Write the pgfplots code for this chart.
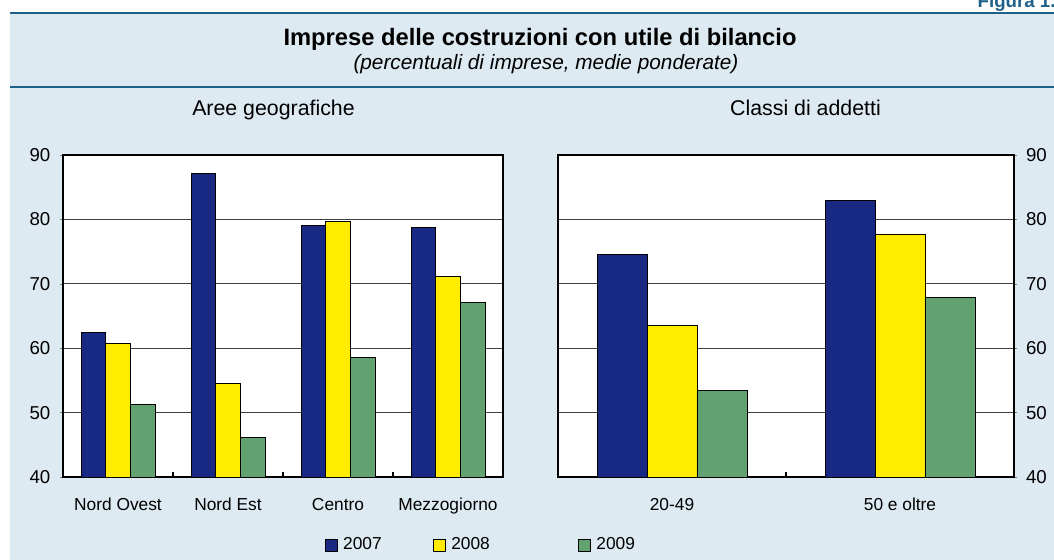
\documentclass[border=0pt]{standalone}
\usepackage{fontspec}
\setmainfont{Liberation Sans}
\usepackage{pgfplots}
\pgfplotsset{compat=1.18}

\definecolor{bgblue}{HTML}{DEEAF2}
\definecolor{rulecol}{HTML}{1D6089}
\definecolor{navy}{HTML}{172983}
\definecolor{yel}{HTML}{FFEC00}
\definecolor{grn}{HTML}{62A170}

\pgfplotsset{
  panel/.style={
    scale only axis, height=241.5pt,
    ymin=40, ymax=90, ytick={40,50,...,90},
    ybar=0pt,
    axis background/.style={fill=white},
    ymajorgrids, grid style={black!75, line width=0.6pt},
    axis line style={line width=0.9pt},
    tick align=outside, major tick length=2.5pt,
    xtick style={draw=none},
    xticklabel style={font=\fontsize{13}{15}\selectfont, text height=0.75em, text depth=0.22em, yshift=-11.5pt},
    yticklabel style={font=\fontsize{14}{16}\selectfont},
    /pgf/number format/assume math mode=true,
    every axis plot/.append style={draw=black, line width=0.6pt},
    clip=false,
  }
}

\begin{document}
\begin{tikzpicture}
\begin{scope}[x=0.75pt,y=0.75pt]
\useasboundingbox (0,0) rectangle (1054,560);
\clip (0,0) rectangle (1054,560);
\fill[bgblue] (10,0) rectangle (1054,548);
\draw[rulecol, line width=1.6pt] (10,547) -- (1054,547);
\draw[rulecol, line width=1.5pt] (10,473) -- (1054,473);
\node[anchor=base west, text=rulecol, font=\bfseries\fontsize{14}{16}\selectfont] at (973,552) {Figura 1.};

\node[anchor=base, font=\bfseries\fontsize{17.8}{20}\selectfont] at (540,514) {Imprese delle costruzioni con utile di bilancio};
\node[anchor=base, font=\itshape\fontsize{15.6}{18}\selectfont] at (546,490) {(percentuali di imprese, medie ponderate)};

\node[anchor=base, font=\fontsize{16}{18}\selectfont] at (273.5,444) {Aree geografiche};
\node[anchor=base, font=\fontsize{16}{18}\selectfont] at (805.5,444) {Classi di addetti};
\end{scope}

\begin{axis}[panel, at={(47.25pt,62.25pt)}, anchor=south west, width=330pt,
  xmin=-0.5, xmax=3.5, bar width=0.224,
  xtick={0,1,2,3}, xticklabels={Nord Ovest,Nord Est,Centro,Mezzogiorno},
  ytick pos=left,
  yticklabel style={xshift=-3.5pt},
  legend columns=3,
  legend style={at={(0.595,-0.211)}, anchor=west, draw=none, fill=none,
    font=\fontsize{13}{15}\selectfont, inner sep=0pt,
    nodes={inner sep=2pt}},
  legend image code/.code={\draw[#1] (0pt,-4.5pt) rectangle (9pt,4.5pt);},
]
\addplot[fill=navy] coordinates {(0,62.5) (1,87.1) (2,79.0) (3,78.8)};
\addplot[fill=yel] coordinates {(0,60.8) (1,54.5) (2,79.7) (3,71.2)};
\addplot[fill=grn] coordinates {(0,51.2) (1,46.1) (2,58.6) (3,67.1)};
\legend{\makebox[67.5pt][l]{\hspace{2pt}2007},\makebox[95.25pt][l]{\hspace{2pt}2008},\hspace{2pt}2009}
\draw[black, line width=0.8pt] (axis cs:0.5,40) -- ++(0pt,4pt);
\draw[black, line width=0.8pt] (axis cs:1.5,40) -- ++(0pt,4pt);
\draw[black, line width=0.8pt] (axis cs:2.5,40) -- ++(0pt,4pt);
\end{axis}

\begin{axis}[panel, at={(418.5pt,62.25pt)}, anchor=south west, width=342pt,
  xmin=-0.5, xmax=1.5, bar width=0.219,
  xtick={0,1}, xticklabels={20-49,50 e oltre},
  ytick pos=right, yticklabel pos=right,
  yticklabel style={xshift=3pt},
]
\addplot[fill=navy] coordinates {(0,74.6) (1,83.0)};
\addplot[fill=yel] coordinates {(0,63.6) (1,77.7)};
\addplot[fill=grn] coordinates {(0,53.4) (1,67.9)};
\draw[black, line width=0.8pt] (axis cs:0.5,40) -- ++(0pt,4pt);
\end{axis}
\end{tikzpicture}
\end{document}
